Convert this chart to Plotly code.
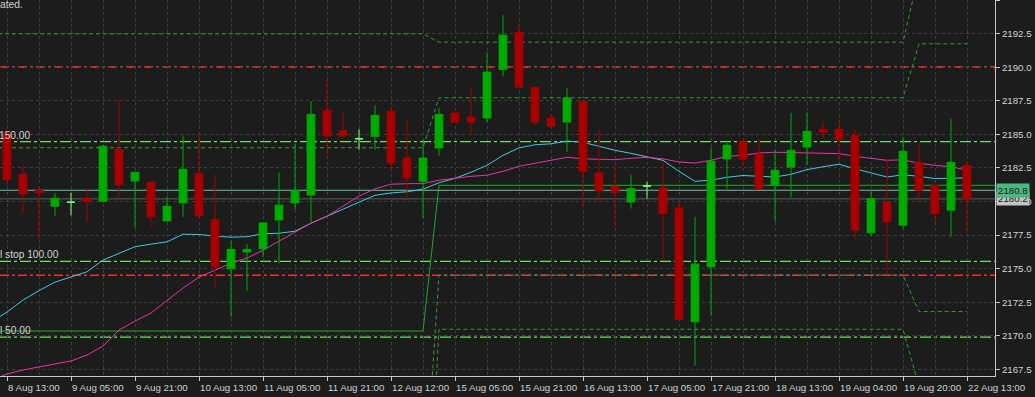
import plotly.graph_objects as go

# ---------------- data ----------------
BARS = list(range(0, 61))
OPEN = [2185.09, 2182.02, 2180.85, 2179.64, 2179.94, 2180.24, 2180.01, 2183.86, 2181.52, 2181.43,
        2178.55, 2179.89, 2182.07, 2178.65, 2174.98, 2176.24, 2176.47, 2178.62, 2179.89, 2180.48,
        2186.78, 2185.29, 2184.67, 2184.85, 2186.70, 2183.23, 2181.50, 2183.98, 2186.58, 2186.28,
        2186.21, 2189.83, 2192.58, 2188.49, 2186.21, 2185.91, 2187.45, 2182.12, 2181.13, 2179.96,
        2181.15, 2181.00, 2179.52, 2171.04, 2175.13, 2183.16, 2184.48, 2183.51, 2181.18, 2182.56,
        2184.05, 2185.37, 2185.37, 2184.92, 2177.66, 2179.92, 2178.23, 2182.91, 2181.18, 2179.35,
        2182.67]
HIGH = [2185.20, 2182.69, 2180.96, 2180.63, 2180.63, 2180.96, 2184.20, 2187.65, 2182.20, 2181.50,
        2180.39, 2184.92, 2184.92, 2182.00, 2177.04, 2176.80, 2178.45, 2182.15, 2184.30, 2187.47,
        2188.96, 2186.65, 2185.37, 2187.15, 2187.08, 2186.11, 2184.60, 2186.98, 2186.60, 2188.47,
        2191.12, 2193.87, 2193.17, 2188.50, 2186.53, 2188.47, 2187.50, 2185.35, 2182.69, 2182.00,
        2181.45, 2182.86, 2179.96, 2178.85, 2184.00, 2184.55, 2184.55, 2184.68, 2183.86, 2186.58,
        2186.63, 2185.91, 2185.91, 2185.35, 2180.83, 2183.19, 2184.80, 2184.30, 2181.20, 2186.16,
        2183.06]
LOW = [2181.20, 2179.10, 2177.17, 2178.90, 2178.95, 2178.48, 2179.90, 2180.29, 2178.03, 2178.10,
       2178.50, 2178.85, 2178.90, 2173.64, 2171.41, 2173.34, 2175.87, 2175.38, 2179.40, 2178.48,
       2183.31, 2184.67, 2183.86, 2183.86, 2182.15, 2180.33, 2178.73, 2183.41, 2185.90, 2184.92,
       2185.91, 2189.31, 2188.50, 2185.59, 2185.55, 2183.68, 2179.59, 2179.96, 2178.10, 2179.47,
       2180.21, 2175.63, 2171.20, 2167.75, 2171.46, 2180.96, 2182.56, 2180.90, 2178.48, 2180.29,
       2182.69, 2184.67, 2183.06, 2177.17, 2177.41, 2174.51, 2177.98, 2180.21, 2178.48, 2177.36,
       2177.61]
CLOSE = [2181.65, 2180.56, 2180.63, 2180.24, 2179.94, 2179.99, 2184.10, 2181.23, 2182.17, 2178.85,
         2179.64, 2182.39, 2178.92, 2175.13, 2176.42, 2176.42, 2178.40, 2179.72, 2180.81, 2186.48,
         2184.87, 2184.87, 2184.67, 2186.41, 2182.86, 2181.75, 2183.23, 2186.48, 2185.91, 2185.91,
         2189.63, 2192.38, 2188.51, 2185.91, 2185.59, 2187.70, 2182.24, 2180.78, 2180.66, 2180.96,
         2181.15, 2179.10, 2171.22, 2175.33, 2182.99, 2184.18, 2183.14, 2180.93, 2182.32, 2183.81,
         2185.22, 2185.14, 2184.62, 2177.86, 2180.21, 2178.48, 2183.73, 2180.83, 2179.10, 2182.91,
         2180.19]

IND_BARS = list(range(-1, 61))
MA_FAST = [2171.02, 2171.76, 2172.65, 2173.36, 2173.99, 2174.36, 2174.76, 2175.63, 2176.15, 2176.63,
           2176.82, 2176.99, 2177.56, 2177.54, 2177.41, 2177.34, 2177.37, 2177.60, 2177.63, 2177.78,
           2178.38, 2178.90, 2179.38, 2179.94, 2180.46, 2180.63, 2180.72, 2180.91, 2181.39, 2181.72,
           2182.17, 2182.69, 2183.43, 2183.99, 2184.22, 2184.29, 2184.50, 2184.40, 2184.10, 2183.81,
           2183.58, 2183.32, 2183.06, 2182.24, 2181.50, 2181.58, 2181.80, 2181.93, 2181.87, 2181.82,
           2182.02, 2182.37, 2182.58, 2182.77, 2182.43, 2182.13, 2181.82, 2181.98, 2181.87, 2181.70,
           2181.72, 2181.75]
MA_SLOW = [2166.70, 2167.15, 2167.45, 2167.67, 2167.89, 2168.12, 2168.56, 2169.23, 2170.42, 2171.09,
           2171.69, 2172.65, 2173.55, 2174.36, 2174.88, 2175.40, 2175.78, 2176.37, 2177.04, 2177.71,
           2178.38, 2178.90, 2179.64, 2180.39, 2180.94, 2181.28, 2181.32, 2181.33, 2181.58, 2181.72,
           2181.87, 2181.95, 2182.24, 2182.62, 2182.84, 2183.06, 2183.29, 2183.17, 2183.14, 2183.11,
           2183.21, 2183.29, 2183.17, 2182.94, 2182.86, 2183.06, 2183.36, 2183.43, 2183.61, 2183.66,
           2183.64, 2183.61, 2183.58, 2183.56, 2183.36, 2183.21, 2183.06, 2183.10, 2182.84, 2182.69,
           2182.58, 2182.32]

TRAIL_BARS = [-1, 26, 27, 62]
TRAIL_VALS = [2170.35, 2170.35, 2181.20, 2181.20]
BAND_BARS = [-1, 26, 27, 56, 57, 60]
UPPER_OUTER = [2192.48, 2192.48, 2191.86, 2191.86, 2197.00, 2197.00]
UPPER_INNER = [2184.00, 2184.00, 2187.72, 2187.72, 2191.74, 2191.74]
LOWER_INNER = [2156.50, 2156.50, 2174.52, 2174.52, 2171.80, 2171.80]
LOWER_OUTER = [2148.20, 2148.20, 2170.48, 2170.48, 2166.20, 2166.20]

RED_LEVELS = [2190.0, 2174.5]
GREEN_LEVELS = [2184.45, 2175.53, 2169.90]
GREEN_LEVEL_LABELS = ["150.00", "l stop 100.00", "l 50.00"]
ASK_LEVEL, ASK_LABEL = 2180.83, "2180.8"
BID_LEVEL, BID_LABEL = 2180.19, "2180.2"
CORNER_TEXT = "ated."

TICK_BARS = [0, 4, 8, 12, 16, 20, 24, 28, 32, 36, 40, 44, 48, 52, 56, 60]
TICK_LABELS = ["8 Aug 13:00", "9 Aug 05:00", "9 Aug 21:00", "10 Aug 13:00", "11 Aug 05:00",
               "11 Aug 21:00", "12 Aug 12:00", "15 Aug 05:00", "15 Aug 21:00", "16 Aug 13:00",
               "17 Aug 05:00", "17 Aug 21:00", "18 Aug 13:00", "19 Aug 04:00", "19 Aug 20:00",
               "22 Aug 13:00"]

# ---------------- style ----------------
BG = "#1c1c1c"
GRID = "#3e3e3e"
AXIS = "#c8c8c8"
TXT = "#d2d2d2"
FONT = "Liberation Sans"
FS = 9.7
UP = "#00aa00"
DOWN = "#a80000"
DOJI = "#80ff80"
X_RANGE = [-0.4375, 61.75]
Y_RANGE = [2167.0, 2195.0]

fig = go.Figure()

# indicator lines (base subplot, below candles)
for band in (UPPER_OUTER, UPPER_INNER, LOWER_INNER, LOWER_OUTER):
    fig.add_trace(go.Scatter(x=BAND_BARS, y=band, mode="lines",
                             line=dict(color="#3c963c", width=1, dash="4px,3px")))
fig.add_trace(go.Scatter(x=TRAIL_BARS, y=TRAIL_VALS, mode="lines",
                         line=dict(color="#22a822", width=1)))
fig.add_trace(go.Scatter(x=IND_BARS, y=MA_FAST, mode="lines",
                         line=dict(color="#48c8dc", width=1)))
fig.add_trace(go.Scatter(x=IND_BARS, y=MA_SLOW, mode="lines",
                         line=dict(color="#e6369a", width=1)))

# candles (overlay subplot, drawn on top)
idx_norm = [i for i in range(len(BARS)) if OPEN[i] != CLOSE[i]]
idx_doji = [i for i in range(len(BARS)) if OPEN[i] == CLOSE[i]]
fig.add_trace(go.Candlestick(
    x=[BARS[i] for i in idx_norm], open=[OPEN[i] for i in idx_norm],
    high=[HIGH[i] for i in idx_norm], low=[LOW[i] for i in idx_norm],
    close=[CLOSE[i] for i in idx_norm], xaxis="x2", yaxis="y2", whiskerwidth=0,
    increasing=dict(line=dict(color=UP, width=1), fillcolor=UP),
    decreasing=dict(line=dict(color=DOWN, width=1), fillcolor=DOWN)))
fig.add_trace(go.Candlestick(
    x=[BARS[i] for i in idx_doji], open=[OPEN[i] for i in idx_doji],
    high=[HIGH[i] for i in idx_doji], low=[LOW[i] for i in idx_doji],
    close=[CLOSE[i] for i in idx_doji], xaxis="x2", yaxis="y2", whiskerwidth=0,
    increasing=dict(line=dict(color=DOJI, width=1), fillcolor=DOJI),
    decreasing=dict(line=dict(color=DOJI, width=1), fillcolor=DOJI)))

shapes = []
for v in RED_LEVELS:
    shapes.append(dict(type="line", xref="paper", x0=0, x1=1, yref="y", y0=v, y1=v,
                       layer="between", line=dict(color="#f03030", width=1.6, dash="9px,3px,3px,3px")))
for v in GREEN_LEVELS:
    shapes.append(dict(type="line", xref="paper", x0=0, x1=1, yref="y", y0=v, y1=v,
                       layer="between", line=dict(color="#72dc66", width=1.3, dash="11px,3px,3px,3px")))
shapes.append(dict(type="line", xref="paper", x0=0, x1=1, yref="y", y0=BID_LEVEL, y1=BID_LEVEL,
                   layer="between", line=dict(color="#5c5c5c", width=1)))
shapes.append(dict(type="line", xref="paper", x0=0, x1=1, yref="y", y0=ASK_LEVEL, y1=ASK_LEVEL,
                   layer="between", line=dict(color="#5ec8a0", width=1)))

annotations = []
for v, t in zip(GREEN_LEVELS, GREEN_LEVEL_LABELS):
    if t == "150.00":
        annotations.append(dict(xref="paper", x=32 / 995, xanchor="right", yref="y", y=v,
                                yanchor="bottom", yshift=-1, text=t, showarrow=False,
                                font=dict(family=FONT, size=FS + 0.5, color=TXT)))
    else:
        annotations.append(dict(xref="paper", x=0, xanchor="left", xshift=-2, yref="y", y=v,
                                yanchor="bottom", yshift=-1, text=t, showarrow=False,
                                font=dict(family=FONT, size=FS + 0.5, color=TXT)))
annotations.append(dict(xref="paper", x=1, xanchor="left", xshift=1, yref="y", y=BID_LEVEL,
                        yanchor="middle", text=BID_LABEL, showarrow=False, bgcolor="#c4c4c4",
                        borderpad=1, font=dict(family=FONT, size=FS, color="#202020")))
annotations.append(dict(xref="paper", x=1, xanchor="left", xshift=1, yref="y", y=ASK_LEVEL,
                        yanchor="middle", text=ASK_LABEL, showarrow=False, bgcolor="#4cb880",
                        borderpad=1, font=dict(family=FONT, size=FS, color="#202020")))
annotations.append(dict(xref="paper", x=0, xanchor="left", xshift=-2, yref="paper", y=1,
                        yanchor="top", yshift=3, text=CORNER_TEXT, showarrow=False,
                        font=dict(family=FONT, size=FS + 0.5, color=TXT)))

fig.update_layout(
    width=1035, height=397, margin=dict(l=0, r=40, t=0, b=21, autoexpand=False),
    paper_bgcolor=BG, plot_bgcolor=BG, showlegend=False, hovermode=False,
    font=dict(family=FONT, size=FS, color=TXT),
    shapes=shapes, annotations=annotations,
    xaxis=dict(range=X_RANGE, tickmode="array", tickvals=TICK_BARS, ticktext=TICK_LABELS,
               tickangle=0, ticklabelposition="outside right", ticks="outside", ticklen=4,
               ticklabelstandoff=2,
               tickcolor=AXIS, showline=True, linecolor=AXIS, linewidth=1, zeroline=False,
               showgrid=True, gridcolor=GRID, griddash="dot", gridwidth=1,
               minor=dict(tickmode="linear", tick0=0, dtick=2, showgrid=True, gridcolor=GRID,
                          griddash="dot", ticks=""),
               tickfont=dict(family=FONT, size=FS, color=TXT), fixedrange=True,
               rangeslider=dict(visible=False)),
    yaxis=dict(range=Y_RANGE, side="right", tick0=2167.5, dtick=2.5, tickformat=".1f",
               ticks="outside", ticklen=4, tickcolor=AXIS, showline=True, linecolor=AXIS,
               linewidth=1, zeroline=False, showgrid=True, gridcolor=GRID, griddash="dot",
               tickfont=dict(family=FONT, size=FS, color=TXT), fixedrange=True),
    xaxis2=dict(range=X_RANGE, overlaying="x", anchor="y2", visible=False,
                rangeslider=dict(visible=False), fixedrange=True),
    yaxis2=dict(range=Y_RANGE, overlaying="y", anchor="x2", visible=False, fixedrange=True),
)

fig.write_html("out.html")
